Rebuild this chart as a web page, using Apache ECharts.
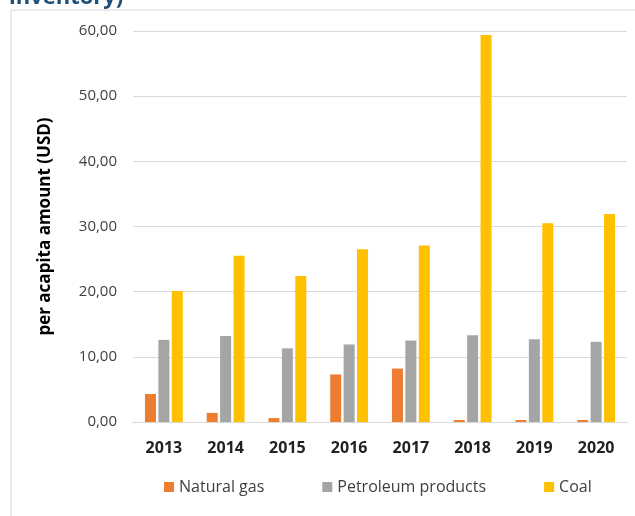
<!DOCTYPE html>
<html><head><meta charset="utf-8">
<script src="https://cdn.jsdelivr.net/npm/echarts@6/dist/echarts.min.js"></script>
<style>html,body{margin:0;padding:0;background:#fff}#c{width:635px;height:516px}</style>
</head><body><div id="c"></div>
<script>
const years = ['2013','2014','2015','2016','2017','2018','2019','2020'];
const naturalGas = [4.3, 1.4, 0.6, 7.3, 8.2, 0.3, 0.3, 0.3];
const petroleum = [12.6, 13.2, 11.3, 11.9, 12.5, 13.3, 12.7, 12.3];
const coal = [20.1, 25.5, 22.4, 26.5, 27.1, 59.4, 30.5, 31.9];
const seriesNames = ['Natural gas', 'Petroleum products', 'Coal'];
const colors = ['#ED7D31', '#A5A5A5', '#FFC000'];
const FONT = 'Open Sans, Liberation Sans, sans-serif';
const chart = echarts.init(document.getElementById('c'));
const mk = (name, data, color) => ({
  name, type: 'bar', data, barWidth: 11, barGap: '22%',
  itemStyle: { color }
});
chart.setOption({
  animation: false,
  textStyle: { fontFamily: FONT },
  graphic: [
    { type: 'rect', shape: { x: 11, y: 10, width: 660, height: 560 }, style: { fill: 'none', stroke: '#d9d9d9', lineWidth: 1 } },
    { type: 'text', left: 9, top: -13, style: { text: 'inventory)', font: 'bold 22px ' + FONT, fill: '#1F4E79' } }
  ],
  grid: { left: 133, right: 8, top: 31, bottom: 94 },
  legend: {
    data: seriesNames, top: 474, left: 159, itemWidth: 10, itemHeight: 10, itemGap: 58,
    icon: 'rect', textStyle: { fontSize: 16, color: '#404040', fontFamily: FONT }
  },
  xAxis: {
    type: 'category', data: years,
    axisLine: { lineStyle: { color: '#d9d9d9' } }, axisTick: { show: false },
    axisLabel: { fontSize: 16, fontWeight: 'bold', color: '#222', margin: 18, fontFamily: FONT }
  },
  yAxis: {
    type: 'value', min: 0, max: 60, interval: 10,
    name: 'per acapita amount (USD)', nameLocation: 'middle', nameGap: 79,
    nameTextStyle: { fontSize: 17, fontWeight: 'bold', color: '#000', fontFamily: FONT },
    axisLine: { show: false }, axisTick: { show: false },
    splitLine: { lineStyle: { color: '#d9d9d9' } },
    axisLabel: { fontSize: 15, color: '#404040', margin: 16, fontFamily: FONT,
      formatter: v => v.toFixed(2).replace('.', ',') }
  },
  series: [mk(seriesNames[0], naturalGas, colors[0]), mk(seriesNames[1], petroleum, colors[1]), mk(seriesNames[2], coal, colors[2])]
});
</script></body></html>
